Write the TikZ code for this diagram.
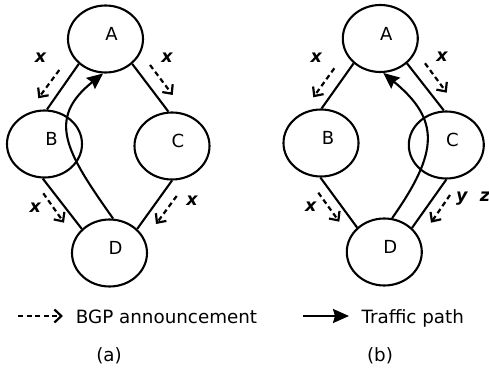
\documentclass[tikz,border=0pt]{standalone}
\usepackage{fontspec}
\setmainfont{DejaVu Sans}
\usetikzlibrary{shapes.geometric,arrows.meta}
\tikzset{
  asnode/.style={draw, ellipse, line width=2.1pt, minimum width=75pt, minimum height=67pt, inner sep=0pt},
  nlab/.style={font=\fontsize{18}{20}\selectfont, xshift=6pt, yshift=5pt},
  link/.style={line width=2.1pt},
  bgp/.style={line width=2.2pt, dash pattern=on 5pt off 3.5pt, -{Straight Barb[length=7pt,width=13pt,line width=2.2pt]}},
  traffic/.style={line width=2.1pt, -{Stealth[length=16pt,width=14pt,inset=2pt]}},
  lab/.style={font=\fontsize{17.5}{20}\selectfont\bfseries\itshape, inner sep=0pt, anchor=base},
  txt/.style={font=\fontsize{18.3}{21}\selectfont, inner sep=0pt}
}
\begin{document}
\begin{tikzpicture}[x=1pt,y=-1pt]
\useasboundingbox (0,0) rectangle (489,371);
% ---- (a) ----
\node[asnode,label={[nlab]center:A}] (A1) at (105.5,39) {};
\node[asnode,label={[nlab,xshift=1pt]center:B}] (B1) at (44.5,144) {};
\node[asnode,label={[nlab]center:C}] (C1) at (172,146) {};
\node[asnode,label={[nlab]center:D}] (D1) at (109.5,253) {};
\draw[link] (A1.223) -- (B1.86);
\draw[link] (A1.317) -- (C1.96);
\draw[link] (B1.267) -- (D1.139);
\draw[link] (C1.270) -- (D1.41);
\draw[traffic] (D1.84) .. controls (66,152) and (46,119) .. (A1.266);
\coordinate (a1s) at (59.3,70);   \coordinate (a1e) at (38.3,98.3);
\coordinate (a2s) at (150,65);    \coordinate (a2e) at (172.7,95);
\coordinate (a3s) at (43.3,193.3);\coordinate (a3e) at (64,222.7);
\coordinate (a4s) at (176.7,196); \coordinate (a4e) at (156,224);
\draw[bgp] (a1s) -- (a1e);
\draw[bgp] (a2s) -- (a2e);
\draw[bgp] (a3s) -- (a3e);
\draw[bgp] (a4s) -- (a4e);
\node[lab] (xa1) at (40.5,63) {x};
\node[lab] (xa2) at (167,62.3) {x};
\node[lab] (xa3) at (35.3,212.7) {x};
\node[lab] (xa4) at (192,205.7) {x};
% ---- (b) ----
\node[asnode,label={[nlab]center:A}] (A2) at (380.3,38.5) {};
\node[asnode,label={[nlab,xshift=1pt]center:B}] (B2) at (321,143) {};
\node[asnode,label={[nlab]center:C}] (C2) at (446.3,145) {};
\node[asnode,label={[nlab]center:D}] (D2) at (384.3,252) {};
\draw[link] (A2.223) -- (B2.89);
\draw[link] (A2.317) -- (C2.94);
\draw[link] (B2.269) -- (D2.138);
\draw[link] (C2.270) -- (D2.41);
\draw[traffic] (D2.77) .. controls (438.7,152) and (440.3,120) .. (A2.275);
\coordinate (b1s) at (334.3,68.3);  \coordinate (b1e) at (313.3,97.3);
\coordinate (b2s) at (425,63.3);    \coordinate (b2e) at (446.7,92.7);
\coordinate (b3s) at (318.3,192.7); \coordinate (b3e) at (339.3,221.7);
\coordinate (b4s) at (450,195);     \coordinate (b4e) at (431,222.7);
\draw[bgp] (b1s) -- (b1e);
\draw[bgp] (b2s) -- (b2e);
\draw[bgp] (b3s) -- (b3e);
\draw[bgp] (b4s) -- (b4e);
\node[lab] (xb1) at (316.3,62.7) {x};
\node[lab] (xb2) at (442,61.7) {x};
\node[lab] (xb3) at (310.8,211.7) {x};
\node[lab] (yb4) at (461.7,202) {y};
\node[lab] (zb4) at (485,201.7) {z};
% ---- legend ----
\coordinate (lg1s) at (18.3,316); \coordinate (lg1e) at (63,316);
\draw[bgp] (lg1s) -- (lg1e);
\node[txt,anchor=base west] (lgt1) at (75.7,323.3) {BGP announcement};
\coordinate (lg2s) at (303.3,316); \coordinate (lg2e) at (349,316);
\draw[traffic] (lg2s) -- (lg2e);
\node[txt,anchor=base west] (lgt2) at (361.3,323.3) {Traffic path};
\node[txt,anchor=base] (capa) at (109,361.7) {(a)};
\node[txt,anchor=base] (capb) at (380,361.7) {(b)};
\end{tikzpicture}
\end{document}
